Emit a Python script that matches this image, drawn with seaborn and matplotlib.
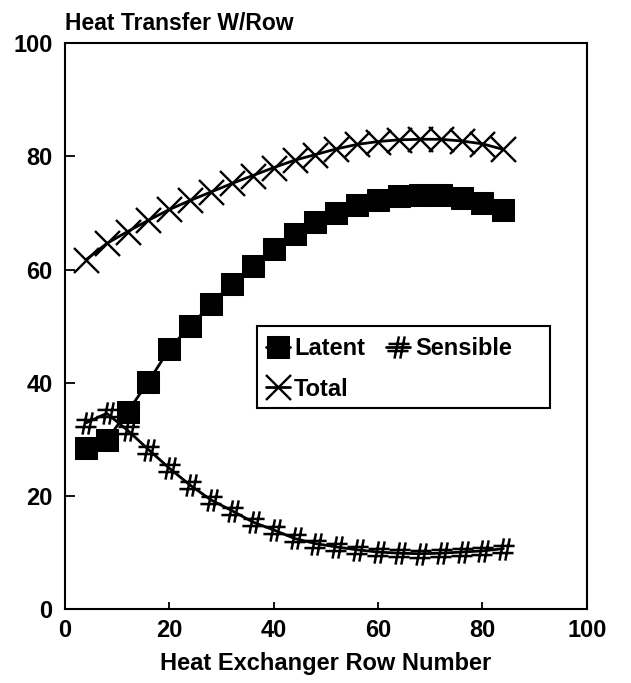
import numpy as np
import pandas as pd
import matplotlib
matplotlib.use("Agg")
import matplotlib.pyplot as plt
from matplotlib.path import Path
from matplotlib.patches import Rectangle
import seaborn as sns

# Heat transfer per row along the heat exchanger
row_number = [4, 8, 12, 16, 20, 24, 28, 32, 36, 40, 44, 48, 52, 56, 60, 64, 68, 72, 76, 80, 84]
latent = [28.4, 29.9, 34.9, 40.2, 46.0, 50.0, 53.9, 57.5, 60.6, 63.6, 66.2, 68.4,
          70.0, 71.4, 72.3, 72.9, 73.1, 73.1, 72.6, 71.8, 70.5]
sensible = [32.9, 34.6, 31.6, 28.2, 24.9, 21.9, 19.3, 17.4, 15.4, 14.0, 12.5, 11.6,
            11.0, 10.5, 10.1, 9.9, 9.8, 9.9, 10.1, 10.3, 10.7]
total = [61.7, 64.6, 66.7, 68.7, 70.6, 72.2, 73.7, 75.2, 76.6, 78.0, 79.3, 80.3,
         81.3, 82.1, 82.6, 82.9, 83.0, 83.0, 82.7, 82.2, 81.2]

x_ticks = [0, 20, 40, 60, 80, 100]
y_ticks = [0, 20, 40, 60, 80, 100]

df = pd.DataFrame({"row": row_number, "Latent": latent,
                   "Sensible": sensible, "Total": total})

# '#' shaped marker: two slanted uprights and two cross bars
hash_marker = Path(
    [(-0.18, -0.5), (0.02, 0.5), (0.08, -0.5), (0.28, 0.5),
     (-0.45, 0.16), (0.5, 0.16), (-0.5, -0.16), (0.45, -0.16)],
    [Path.MOVETO, Path.LINETO] * 4,
)

sns.set_style("white")
plt.rcParams["font.family"] = ["Liberation Sans", "DejaVu Sans"]
plt.rcParams["font.weight"] = "bold"
plt.rcParams["text.color"] = "black"
plt.rcParams["axes.labelcolor"] = "black"
plt.rcParams["xtick.color"] = "black"
plt.rcParams["ytick.color"] = "black"

fig = plt.figure(figsize=(6.31, 6.83), dpi=100)
ax = fig.add_axes([0.103, 0.108, 0.827, 0.829])

line_kw = dict(color="black", linewidth=2.0)
sns.lineplot(data=df, x="row", y="Latent", ax=ax, marker="s", markersize=15.5,
             markerfacecolor="black", markeredgecolor="black", label="Latent", **line_kw)
sns.lineplot(data=df, x="row", y="Total", ax=ax, marker="x", markersize=18,
             markeredgewidth=1.7, markeredgecolor="black", label="Total", **line_kw)
sns.lineplot(data=df, x="row", y="Sensible", ax=ax, marker=hash_marker, markersize=16,
             markeredgewidth=1.8, markeredgecolor="black", markerfacecolor="none",
             label="Sensible", **line_kw)

ax.set_xlim(0, 100)
ax.set_ylim(0, 100)
ax.set_xticks(x_ticks)
ax.set_yticks(y_ticks)
ax.tick_params(axis="both", direction="in", colors="black", labelcolor="black",
               labelsize=17, bottom=True, left=True, top=False, right=False)
ax.tick_params(axis="y", length=7, width=1.3, pad=9)
ax.tick_params(axis="x", length=5, width=1.3, pad=7)
for lab in ax.get_xticklabels() + ax.get_yticklabels():
    lab.set_fontweight("bold")
for side in ax.spines.values():
    side.set_visible(True)
    side.set_color("black")
    side.set_linewidth(1.5)

ax.set_xlabel("Heat Exchanger Row Number", fontsize=17, fontweight="bold",
              labelpad=7, color="black")
ax.set_ylabel("")
ax.text(0.0, 1.014, "Heat Transfer W/Row", transform=ax.transAxes, ha="left",
        va="bottom", fontsize=16.5, fontweight="bold", color="black")

# Legend entries laid out in rows: Latent, Sensible / Total
handles, labels = ax.get_legend_handles_labels()
order = [labels.index("Latent"), labels.index("Total"), labels.index("Sensible")]
leg = ax.legend([handles[i] for i in order], [labels[i] for i in order],
                ncol=2, loc="upper left", bbox_to_anchor=(0.385, 0.481),
                frameon=False, handlelength=1.0, handletextpad=0.2,
                columnspacing=0.9, borderpad=0.0, borderaxespad=0.0,
                labelspacing=0.75, labelcolor="black",
                prop={"size": 17, "weight": "bold"})

# Legend frame box
ax.add_patch(Rectangle((0.368, 0.355), 0.561, 0.145, transform=ax.transAxes,
                       fill=True, facecolor="white", edgecolor="black",
                       linewidth=1.5, zorder=4))
leg.set_zorder(5)

fig.savefig("out.png", dpi=100, facecolor="white")
